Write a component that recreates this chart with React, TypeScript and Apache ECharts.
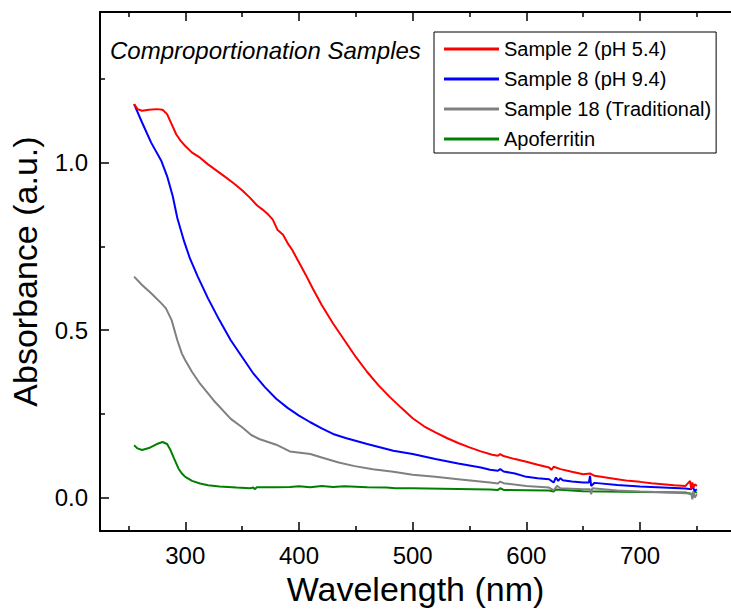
import React, { useEffect, useRef } from "react";
import * as echarts from "echarts";

const FONT = '"Liberation Sans", Arial, sans-serif';

const seriesNames = ["Sample 2 (pH 5.4)", "Sample 8 (pH 9.4)", "Sample 18 (Traditional)", "Apoferritin"];
const seriesColors = ["#ff0000", "#0000ff", "#808080", "#008000"];

const redX = [255, 258, 262, 268, 275, 280, 284, 288, 292, 296, 300, 306, 313, 320, 333, 342, 350, 357, 363, 368, 373, 377, 381, 386, 390, 394, 398, 402, 406, 412, 420, 430, 440, 450, 460, 470, 480, 490, 500, 510, 520, 530, 540, 550, 560, 570, 575, 577, 580, 590, 600, 610, 620, 622, 624, 630, 640, 650, 656, 660, 670, 680, 690, 700, 710, 720, 730, 740, 744, 745, 746, 747, 748, 750];
const redY = [1.175, 1.16, 1.155, 1.158, 1.16, 1.158, 1.145, 1.115, 1.085, 1.065, 1.05, 1.03, 1.015, 0.995, 0.963, 0.94, 0.918, 0.895, 0.873, 0.86, 0.845, 0.83, 0.8, 0.785, 0.76, 0.74, 0.715, 0.69, 0.665, 0.625, 0.575, 0.52, 0.47, 0.42, 0.375, 0.335, 0.3, 0.268, 0.237, 0.213, 0.195, 0.178, 0.163, 0.15, 0.138, 0.128, 0.125, 0.13, 0.124, 0.115, 0.107, 0.098, 0.09, 0.083, 0.092, 0.085, 0.077, 0.07, 0.072, 0.065, 0.06, 0.055, 0.05, 0.047, 0.043, 0.04, 0.037, 0.035, 0.05, 0.025, 0.045, 0.03, 0.04, 0.035];

const blueX = [255, 262, 270, 279, 284, 289, 293, 299, 304, 311, 320, 330, 340, 350, 360, 370, 380, 390, 400, 410, 420, 430, 441, 460, 483, 500, 520, 540, 560, 568, 575, 577, 580, 590, 600, 610, 620, 624, 626, 628, 630, 632, 640, 650, 655, 656, 657, 660, 680, 700, 720, 740, 745, 746, 748, 750];
const blueY = [1.175, 1.12, 1.06, 1.005, 0.96, 0.9, 0.835, 0.765, 0.715, 0.66, 0.595, 0.53, 0.47, 0.42, 0.37, 0.33, 0.295, 0.268, 0.245, 0.225, 0.207, 0.19, 0.178, 0.16, 0.14, 0.13, 0.115, 0.102, 0.09, 0.083, 0.08, 0.085, 0.078, 0.072, 0.062, 0.058, 0.055, 0.045, 0.06, 0.05, 0.058, 0.052, 0.048, 0.045, 0.045, 0.065, 0.035, 0.044, 0.038, 0.033, 0.03, 0.027, 0.025, 0.035, 0.02, 0.025];

const grayX = [255, 262, 270, 279, 283, 288, 293, 297, 300, 306, 313, 325, 340, 350, 358, 365, 380, 392, 410, 420, 435, 449, 465, 483, 500, 520, 540, 568, 575, 577, 580, 600, 620, 624, 627, 630, 650, 656, 657, 658, 680, 700, 720, 740, 745, 746, 747, 748, 750];
const grayY = [0.66, 0.635, 0.61, 0.58, 0.565, 0.53, 0.47, 0.43, 0.41, 0.375, 0.34, 0.29, 0.235, 0.21, 0.187, 0.175, 0.158, 0.138, 0.13, 0.12, 0.105, 0.094, 0.085, 0.077, 0.068, 0.062, 0.055, 0.045, 0.042, 0.048, 0.043, 0.035, 0.03, 0.022, 0.035, 0.028, 0.025, 0.025, 0.01, 0.028, 0.021, 0.018, 0.016, 0.013, 0.012, -0.005, 0.02, 0.0, 0.01];

const greenX = [255, 258, 262, 268, 275, 280, 284, 287, 290, 294, 297, 300, 306, 313, 320, 330, 345, 357, 360, 361, 363, 380, 392, 400, 410, 420, 430, 440, 460, 477, 485, 500, 540, 568, 575, 577, 580, 600, 620, 624, 626, 650, 700, 740, 746, 748, 750];
const greenY = [0.156, 0.147, 0.142, 0.148, 0.16, 0.166, 0.16, 0.142, 0.118, 0.087, 0.072, 0.062, 0.05, 0.042, 0.037, 0.033, 0.03, 0.028, 0.03, 0.025, 0.031, 0.031, 0.032, 0.034, 0.031, 0.035, 0.032, 0.034, 0.031, 0.03, 0.028, 0.028, 0.026, 0.024, 0.023, 0.028, 0.023, 0.022, 0.021, 0.018, 0.024, 0.019, 0.017, 0.015, 0.01, 0.018, 0.014];

const xMajor = [300, 400, 500, 600, 700];
const xMinor = [250, 350, 450, 550, 650, 750];
const yMajor = [0, 0.5, 1.0];
const yMinor = [0.25, 0.75, 1.25];

const titleText = "Comproportionation Samples";

function pairs(xs: number[], ys: number[]) {
  return xs.map((x, i) => [x, ys[i]]);
}

export default function App() {
  const ref = useRef<HTMLDivElement>(null);
  useEffect(() => {
    if (!ref.current) return;
    const chart = echarts.init(ref.current, null, { renderer: "svg" });
    const black = "#000";
    const xBase = { type: "value", min: 225, max: 780, splitLine: { show: false }, gridIndex: 0 };
    const yBase = { type: "value", min: -0.1, max: 1.45, splitLine: { show: false }, gridIndex: 0 };
    const lineOn = { show: true, onZero: false, lineStyle: { color: black, width: 2 } };
    const lineOff = { show: false, onZero: false };
    const allData = [pairs(redX, redY), pairs(blueX, blueY), pairs(grayX, grayY), pairs(greenX, greenY)];
    chart.setOption({
      animation: false,
      backgroundColor: "#fff",
      grid: { left: 97, top: 12, right: -17, bottom: 76, containLabel: false },
      xAxis: [
        {
          ...xBase,
          position: "bottom",
          axisLine: lineOn,
          axisTick: { show: true, inside: true, length: 9, lineStyle: { color: black, width: 1.5 }, customValues: xMajor },
          axisLabel: { show: true, customValues: xMajor, fontSize: 24, color: black, margin: 12, fontFamily: FONT },
          name: "Wavelength (nm)",
          nameLocation: "middle",
          nameGap: 38,
          nameTextStyle: { fontSize: 34, color: black, fontFamily: FONT },
        },
        {
          ...xBase,
          position: "bottom",
          axisLine: lineOff,
          axisTick: { show: true, inside: true, length: 5, lineStyle: { color: black, width: 1.5 }, customValues: xMinor },
          axisLabel: { show: false },
        },
        {
          ...xBase,
          position: "top",
          axisLine: lineOn,
          axisTick: { show: true, inside: true, length: 9, lineStyle: { color: black, width: 1.5 }, customValues: xMajor },
          axisLabel: { show: false },
        },
        {
          ...xBase,
          position: "top",
          axisLine: lineOff,
          axisTick: { show: true, inside: true, length: 5, lineStyle: { color: black, width: 1.5 }, customValues: xMinor },
          axisLabel: { show: false },
        },
      ],
      yAxis: [
        {
          ...yBase,
          position: "left",
          axisLine: lineOn,
          axisTick: { show: true, inside: true, length: 9, lineStyle: { color: black, width: 1.5 }, customValues: yMajor },
          axisLabel: {
            show: true,
            customValues: yMajor,
            fontSize: 24,
            color: black,
            margin: 12,
            fontFamily: FONT,
            formatter: (v: number) => v.toFixed(1),
          },
          name: "Absorbance (a.u.)",
          nameLocation: "middle",
          nameGap: 58,
          nameRotate: 90,
          nameTextStyle: { fontSize: 34, color: black, fontFamily: FONT },
        },
        {
          ...yBase,
          position: "left",
          axisLine: lineOff,
          axisTick: { show: true, inside: true, length: 5, lineStyle: { color: black, width: 1.5 }, customValues: yMinor },
          axisLabel: { show: false },
        },
      ],
      legend: {
        show: true,
        orient: "vertical",
        left: 434,
        top: 32,
        padding: [7, 5, 4, 10],
        itemGap: 10,
        itemWidth: 55,
        itemHeight: 3,
        icon: "rect",
        selectedMode: false,
        borderColor: black,
        borderWidth: 1,
        backgroundColor: "#fff",
        textStyle: { fontSize: 20, color: black, fontFamily: FONT, lineHeight: 20 },
        data: seriesNames,
      },
      graphic: [
        {
          type: "text",
          left: 110,
          top: 38,
          style: { text: titleText, font: `italic 24px ${FONT}`, fill: black },
        },
      ],
      series: seriesNames.map((name, i) => ({
        name,
        type: "line",
        xAxisIndex: 0,
        yAxisIndex: 0,
        data: allData[i],
        showSymbol: false,
        symbol: "none",
        color: seriesColors[i],
        lineStyle: { color: seriesColors[i], width: 2 },
        z: 10 - i,
      })),
    });
    return () => chart.dispose();
  }, []);
  return <div ref={ref} style={{ position: "absolute", left: 0, top: 0, width: 731, height: 611 }} />;
}
